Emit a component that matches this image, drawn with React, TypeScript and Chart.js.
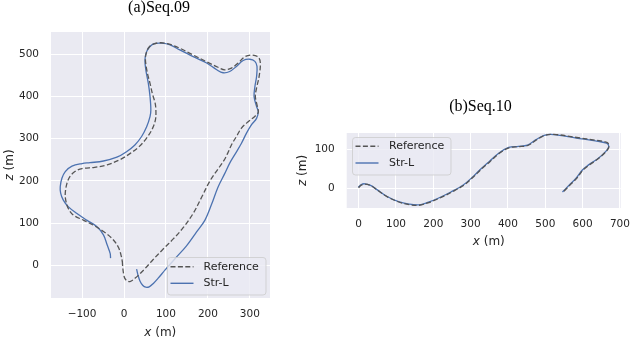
import React, { useEffect, useRef } from "react";
import { Chart, registerables } from "chart.js";

Chart.register(...registerables);

// ---------- Data: (a) Seq.09 ----------
const seq09RefX = [-4, -3, -1, 2, 7, 14, 26, 48, 68, 94, 118, 141, 165, 185, 205, 224, 238, 247, 256, 268, 280, 296, 311, 320, 317, 313, 316, 322, 325, 320, 304, 288, 272, 256, 240, 224, 197, 165, 133, 110, 88, 70, 60, 54, 51, 53, 57, 62, 68, 74, 76, 75, 67, 53, 36, 15, -10, -40, -70, -100, -117, -129, -136, -140, -139, -133, -121, -97, -73, -49, -29, -14, -6, -4];
const seq09RefZ = [10, -5, -20, -31, -36.5, -38.5, -31, -10, 12, 39, 63, 89, 123, 161, 200, 228, 248, 265, 285, 305, 325, 340, 352, 362, 380, 400, 420, 447, 479, 493, 498, 494, 479, 467, 463, 469, 482, 498, 514, 523, 527, 524, 517, 506, 490, 470, 450, 431, 405, 385, 368, 345, 322, 300, 281, 265, 250, 238, 232, 229, 222, 210, 194, 171, 155, 135, 119, 107, 95, 80, 64, 44, 20, 8];

const seq09StrX = [30, 33, 38, 45, 52, 60, 70, 82, 98, 121, 149, 173, 193, 209, 224, 240, 252, 264, 280, 292, 304, 316, 320, 316, 310, 312, 316, 317, 312, 300, 284, 268, 252, 236, 221, 197, 165, 133, 110, 90, 72, 62, 54, 50, 52, 58, 62, 64, 62, 54, 42, 26, 6, -17, -49, -81, -100, -124, -140, -148, -152, -151, -145, -133, -113, -89, -65, -49, -40, -33, -32];
const seq09StrZ = [-9, -22, -37, -48, -52, -51, -43, -30, -11, 15, 46, 79, 107, 145, 185, 217, 242, 262, 289, 313, 333, 348, 364, 376, 400, 423, 447, 471, 483, 488, 485, 471, 459, 456, 463, 479, 494, 510, 522, 526, 525, 518, 506, 487, 463, 431, 400, 368, 352, 328, 305, 285, 269, 256, 247, 243, 241, 235, 222, 206, 186, 171, 155, 139, 123, 107, 92, 72, 48, 28, 17];

const seq09XTicks = [-100, 0, 100, 200, 300];
const seq09ZTicks = [0, 100, 200, 300, 400, 500];

// ---------- Data: (b) Seq.10 ----------
const seq10RefX = [0, 7, 17, 33, 50, 76, 106, 136, 162, 188, 214, 248, 282, 308, 326, 341, 351, 377, 403, 429, 453, 476, 498, 523, 584, 635, 665, 671, 665, 644, 618, 601, 584, 566, 547];
const seq10RefZ = [1, 7.5, 10, 6, -5, -22, -35, -42.5, -44, -37, -27, -11, 7.5, 29, 46, 59, 67, 89, 103, 106, 109, 123, 134.5, 137.5, 129.5, 122.5, 117, 108, 96, 77, 59, 46, 25, 7.5, -11];

const seq10StrX = [-1, 6, 16, 32, 49, 75, 105, 135, 161, 187, 213, 247, 281, 307, 325, 340, 350, 376, 402, 428, 452, 475, 497, 522, 583, 634, 664, 670, 664, 643, 617, 600, 583, 565, 546];
const seq10StrZ = [2, 8.5, 11, 7, -4, -21, -34, -41, -43, -36, -26, -10, 8.5, 30, 47, 60, 68, 90, 104, 107, 110, 124, 135, 137, 128, 121, 115, 107, 96, 77, 60, 47, 26, 8.5, -10];

const seq10XTicks = [0, 100, 200, 300, 400, 500, 600, 700];
const seq10ZTicks = [0, 100];

const legendLabels = ["Reference", "Str-L"];

// ---------- Styles ----------
const REF_COLOR = "#555555";
const STR_COLOR = "#4C72B0";
const BG = "#EAEAF2";
const TICK_COLOR = "#262626";
const TICK_FONT = { family: "'DejaVu Sans'", size: 10.5 };

type Spec = {
  refX: number[]; refZ: number[]; strX: number[]; strZ: number[];
  xMin: number; xMax: number; yMin: number; yMax: number;
  xTicks: number[]; yTicks: number[];
  padding: { left: number; top: number; right: number; bottom: number };
  yWidth: number; xHeight: number;
  title: string; titleX: number; titleY: number;
  xLabelX: number; xLabelY: number; zLabelX: number; zLabelY: number;
  legend: { x: number; y: number; w: number; h: number; y1: number; y2: number; lx0: number; lx1: number; tx: number };
};

const toPts = (xs: number[], ys: number[]) => xs.map((x, i) => ({ x, y: ys[i] }));
const fmt = (v: number) => (v < 0 ? "\u2212" + Math.abs(v) : String(v));

function drawAxisLabel(ctx: CanvasRenderingContext2D, letter: string, cx: number, cy: number, rotate: boolean) {
  ctx.save();
  ctx.translate(cx, cy);
  if (rotate) ctx.rotate(-Math.PI / 2);
  const it = "italic 12px 'DejaVu Sans'";
  const rg = "12px 'DejaVu Sans'";
  ctx.font = it;
  const w1 = ctx.measureText(letter).width;
  ctx.font = rg;
  const rest = " (m)";
  const w2 = ctx.measureText(rest).width;
  const start = -(w1 + w2) / 2;
  ctx.fillStyle = TICK_COLOR;
  ctx.textBaseline = "middle";
  ctx.textAlign = "left";
  ctx.font = it;
  ctx.fillText(letter, start, 0);
  ctx.font = rg;
  ctx.fillText(rest, start + w1, 0);
  ctx.restore();
}

function makeDecor(spec: Spec) {
  return {
    id: "decor",
    beforeDraw(chart: any) {
      const { ctx, chartArea: a } = chart;
      ctx.save();
      ctx.fillStyle = BG;
      ctx.fillRect(a.left, a.top, a.right - a.left, a.bottom - a.top);
      ctx.restore();
    },
    afterDraw(chart: any) {
      const ctx: CanvasRenderingContext2D = chart.ctx;
      ctx.save();
      // title
      ctx.fillStyle = "#000";
      ctx.font = "16px 'Liberation Serif'";
      ctx.textAlign = "center";
      ctx.textBaseline = "middle";
      ctx.fillText(spec.title, spec.titleX, spec.titleY);
      ctx.restore();
      drawAxisLabel(ctx, "x", spec.xLabelX, spec.xLabelY, false);
      drawAxisLabel(ctx, "z", spec.zLabelX, spec.zLabelY, true);
      // legend
      const L = spec.legend;
      ctx.save();
      ctx.beginPath();
      (ctx as any).roundRect(L.x + 0.5, L.y + 0.5, L.w, L.h, 3);
      ctx.fillStyle = "rgba(234,234,242,0.8)";
      ctx.fill();
      ctx.strokeStyle = "rgba(204,204,204,0.8)";
      ctx.lineWidth = 1;
      ctx.stroke();
      ctx.lineWidth = 1.4;
      ctx.strokeStyle = REF_COLOR;
      ctx.setLineDash([5, 2.4]);
      ctx.beginPath();
      ctx.moveTo(L.lx0, L.y1);
      ctx.lineTo(L.lx1, L.y1);
      ctx.stroke();
      ctx.setLineDash([]);
      ctx.strokeStyle = STR_COLOR;
      ctx.beginPath();
      ctx.moveTo(L.lx0, L.y2);
      ctx.lineTo(L.lx1, L.y2);
      ctx.stroke();
      ctx.fillStyle = TICK_COLOR;
      ctx.font = "11px 'DejaVu Sans'";
      ctx.textAlign = "left";
      ctx.textBaseline = "middle";
      ctx.fillText(legendLabels[0], L.tx, L.y1);
      ctx.fillText(legendLabels[1], L.tx, L.y2);
      ctx.restore();
    },
  };
}

function makeConfig(spec: Spec): any {
  return {
    type: "scatter",
    data: {
      datasets: [
        {
          label: legendLabels[0],
          data: toPts(spec.refX, spec.refZ),
          showLine: true,
          borderColor: REF_COLOR,
          borderWidth: 1.3,
          borderDash: [5, 2.4],
          pointRadius: 0,
          tension: 0.35,
          fill: false,
        },
        {
          label: legendLabels[1],
          data: toPts(spec.strX, spec.strZ),
          showLine: true,
          borderColor: STR_COLOR,
          borderWidth: 1.3,
          pointRadius: 0,
          tension: 0.35,
          fill: false,
        },
      ],
    },
    options: {
      animation: false,
      responsive: false,
      devicePixelRatio: 1,
      layout: { padding: spec.padding },
      plugins: { legend: { display: false }, tooltip: { enabled: false }, title: { display: false } },
      events: [],
      scales: {
        x: {
          type: "linear",
          min: spec.xMin,
          max: spec.xMax,
          border: { display: false },
          grid: { color: "#ffffff", lineWidth: 1, drawTicks: false },
          ticks: { color: TICK_COLOR, font: TICK_FONT, padding: 10, maxRotation: 0, callback: (v: number) => fmt(v) },
          afterBuildTicks: (s: any) => { s.ticks = spec.xTicks.map((v) => ({ value: v })); },
          afterFit: (s: any) => { s.height = spec.xHeight; },
        },
        y: {
          type: "linear",
          min: spec.yMin,
          max: spec.yMax,
          border: { display: false },
          grid: { color: "#ffffff", lineWidth: 1, drawTicks: false },
          ticks: { color: TICK_COLOR, font: TICK_FONT, padding: 12, callback: (v: number) => fmt(v) },
          afterBuildTicks: (s: any) => { s.ticks = spec.yTicks.map((v) => ({ value: v })); },
          afterFit: (s: any) => { s.width = spec.yWidth; },
        },
      },
    },
    plugins: [makeDecor(spec)],
  };
}

const spec09: Spec = {
  refX: seq09RefX, refZ: seq09RefZ, strX: seq09StrX, strZ: seq09StrZ,
  xMin: -174, xMax: 348, yMin: -77.5, yMax: 552.5,
  xTicks: seq09XTicks, yTicks: seq09ZTicks,
  padding: { left: 0, top: 32, right: 370, bottom: 0 },
  yWidth: 51, xHeight: 41,
  title: "(a)Seq.09", titleX: 159, titleY: 8,
  xLabelX: 160.3, xLabelY: 332.5, zLabelX: 10, zLabelY: 165,
  legend: { x: 167, y: 257, w: 98.5, h: 37.5, y1: 266.7, y2: 283.3, lx0: 170.5, lx1: 193.5, tx: 203.5 },
};

const spec10: Spec = {
  refX: seq10RefX, refZ: seq10RefZ, strX: seq10StrX, strZ: seq10StrZ,
  xMin: -32, xMax: 702, yMin: -51, yMax: 141,
  xTicks: seq10XTicks, yTicks: seq10ZTicks,
  padding: { left: 306.7, top: 133, right: 9, bottom: 90 },
  yWidth: 40, xHeight: 41,
  title: "(b)Seq.10", titleX: 480.5, titleY: 107,
  xLabelX: 488.8, xLabelY: 241.7, zLabelX: 303, zLabelY: 170.5,
  legend: { x: 352, y: 137, w: 98.5, h: 37.5, y1: 146.3, y2: 163, lx0: 355.5, lx1: 378.5, tx: 389 },
};

function ChartCanvas({ spec }: { spec: Spec }) {
  const ref = useRef<HTMLCanvasElement | null>(null);
  useEffect(() => {
    if (!ref.current) return;
    const chart = new Chart(ref.current, makeConfig(spec));
    return () => chart.destroy();
  }, [spec]);
  return (
    <canvas
      ref={ref}
      width={640}
      height={339}
      style={{ position: "absolute", left: 0, top: 0, width: 640, height: 339 }}
    />
  );
}

export default function App() {
  return (
    <div style={{ position: "absolute", left: 0, top: 0, width: 640, height: 339, background: "#ffffff", overflow: "hidden" }}>
      <ChartCanvas spec={spec09} />
      <ChartCanvas spec={spec10} />
    </div>
  );
}
